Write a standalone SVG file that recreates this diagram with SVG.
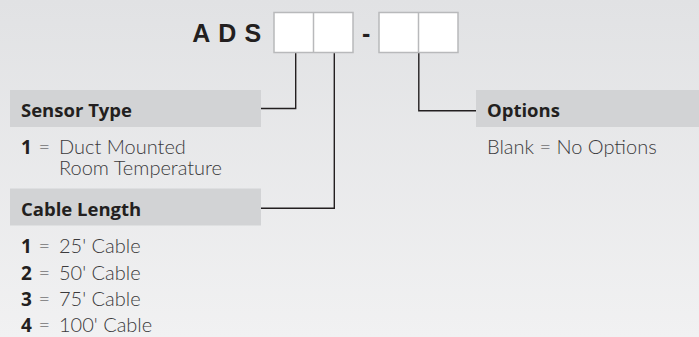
<svg xmlns="http://www.w3.org/2000/svg" width="699" height="337" viewBox="0 0 699 337">
  <defs>
    <linearGradient id="bg" x1="0" y1="0" x2="0" y2="1">
      <stop offset="0" stop-color="#e1e2e4"/>
      <stop offset="1" stop-color="#f1f1f2"/>
    </linearGradient>
  </defs>
  <style>
    .band { fill: #d2d3d5; }
    .box { fill: #ffffff; stroke: #b8b9bb; stroke-width: 1.5; }
    .wire { fill: none; stroke: #231f20; stroke-width: 1.4; }
    .code { font-family: "Liberation Sans", Arial, sans-serif; font-weight: 700; fill: #231f20; }
    .head { font-family: "Open Sans", Lato, sans-serif; font-weight: 700; font-size: 18.5px; fill: #231f20; }
    .body { font-family: Lato, "Open Sans", sans-serif; font-weight: 300; font-size: 20px; fill: #3b3a3c; }
    .num { font-family: "Open Sans", Lato, sans-serif; font-weight: 700; font-size: 19px; fill: #231f20; }
  </style>

  <rect width="699" height="337" fill="url(#bg)"/>

  <!-- part number template -->
  <g id="part-code">
    <text class="code" x="192.3" y="42.3" font-size="25" letter-spacing="8">ADS</text>
    <rect class="box" x="274" y="12.5" width="79" height="40"/>
    <line class="box" x1="313.5" y1="12.5" x2="313.5" y2="52.5"/>
    <text class="code" x="362" y="42.3" font-size="25">-</text>
    <rect class="box" x="379" y="12.5" width="79" height="40"/>
    <line class="box" x1="418.5" y1="12.5" x2="418.5" y2="52.5"/>
  </g>

  <!-- leader lines from code fields to option tables -->
  <g id="connectors">
    <path class="wire" d="M295.7 53.3 V108.5 H261"/>
    <path class="wire" d="M334.3 53.3 V208.3 H261"/>
    <path class="wire" d="M418.8 53.3 V110.7 H476"/>
  </g>

  <g id="sensor-type">
    <rect class="band" x="10" y="90" width="251" height="37"/>
    <text class="head" x="21" y="117">Sensor Type</text>
    <text class="body"><tspan class="num" x="21" y="154">1</tspan><tspan x="38.5" y="154">=</tspan><tspan x="59" y="154">Duct Mounted</tspan><tspan x="59" y="175">Room Temperature</tspan></text>
  </g>

  <g id="cable-length">
    <rect class="band" x="10" y="188.5" width="251" height="37"/>
    <text class="head" x="21" y="216">Cable Length</text>
    <text class="body" y="253"><tspan class="num" x="21">1</tspan><tspan x="38.5">=</tspan><tspan x="59">25' Cable</tspan></text>
    <text class="body" y="279.5"><tspan class="num" x="21">2</tspan><tspan x="38.5">=</tspan><tspan x="59">50' Cable</tspan></text>
    <text class="body" y="306"><tspan class="num" x="21">3</tspan><tspan x="38.5">=</tspan><tspan x="59">75' Cable</tspan></text>
    <text class="body" y="332"><tspan class="num" x="21">4</tspan><tspan x="38.5">=</tspan><tspan x="59">100' Cable</tspan></text>
  </g>

  <g id="options">
    <rect class="band" x="476" y="90" width="223" height="37"/>
    <text class="head" x="487" y="117">Options</text>
    <text class="body" x="487" y="154">Blank = No Options</text>
  </g>
</svg>
